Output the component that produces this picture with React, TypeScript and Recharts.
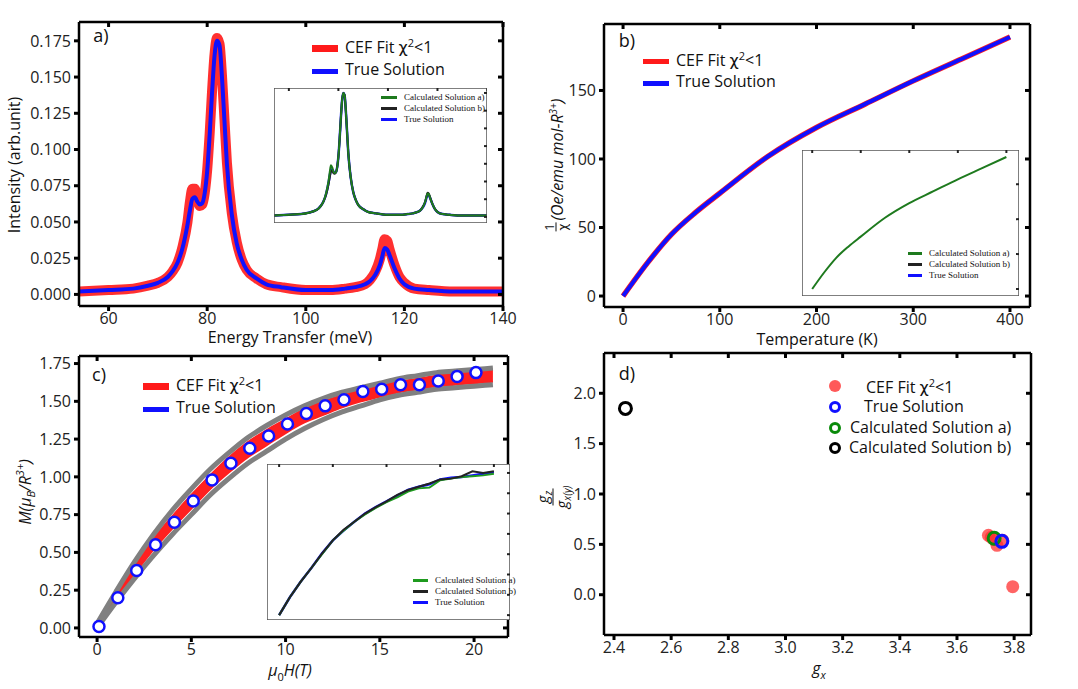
import React from "react";
import { LineChart, Line, XAxis, YAxis, ComposedChart, Area, Scatter, ScatterChart } from "recharts";

// ---- panel a data ----
const aEnergy = [54,60,65,68,70,72,73,74,75,76,76.5,77,77.5,78,78.5,79,79.5,80,80.5,81,81.5,82,82.5,83,83.5,84,85,86,87,88,90,92,95,100,105,108,110,112,113,114,115,115.5,116,116.5,117,118,119,120,122,125,130,135,140];
const aTrue = [0.002,0.003,0.004,0.006,0.008,0.012,0.016,0.022,0.032,0.048,0.058,0.066,0.067,0.064,0.062,0.063,0.07,0.085,0.11,0.14,0.165,0.175,0.172,0.15,0.12,0.09,0.055,0.035,0.024,0.017,0.011,0.007,0.005,0.003,0.003,0.004,0.005,0.007,0.009,0.013,0.02,0.026,0.032,0.031,0.027,0.018,0.011,0.007,0.004,0.003,0.002,0.002,0.002];
const aFit = [0.002,0.003,0.004,0.006,0.008,0.012,0.016,0.022,0.033,0.05,0.064,0.073,0.073,0.066,0.061,0.062,0.07,0.086,0.111,0.141,0.166,0.177,0.173,0.151,0.121,0.091,0.056,0.036,0.024,0.017,0.011,0.007,0.005,0.003,0.003,0.004,0.005,0.007,0.01,0.015,0.024,0.031,0.038,0.037,0.031,0.02,0.012,0.008,0.004,0.003,0.002,0.002,0.002];
const aCalcA = [0.002,0.003,0.004,0.006,0.008,0.012,0.016,0.022,0.033,0.05,0.063,0.073,0.07,0.064,0.062,0.063,0.07,0.085,0.11,0.14,0.165,0.175,0.172,0.15,0.12,0.09,0.055,0.035,0.024,0.017,0.011,0.007,0.005,0.003,0.003,0.004,0.005,0.007,0.009,0.013,0.021,0.027,0.033,0.032,0.027,0.018,0.011,0.007,0.004,0.003,0.002,0.002,0.002];
const aCalcB = [0.002,0.003,0.004,0.006,0.008,0.012,0.016,0.022,0.031,0.046,0.056,0.064,0.065,0.062,0.061,0.063,0.07,0.085,0.11,0.14,0.165,0.175,0.172,0.15,0.12,0.09,0.055,0.035,0.024,0.017,0.011,0.007,0.005,0.003,0.003,0.004,0.005,0.007,0.009,0.014,0.021,0.028,0.034,0.033,0.028,0.018,0.011,0.007,0.004,0.003,0.002,0.002,0.002];
const aXTicks = [60,80,100,120,140];
const aYTicks = [0,0.025,0.05,0.075,0.1,0.125,0.15,0.175];

// ---- panel b data ----
const bTemp = [0,25,50,75,100,150,200,250,300,350,400];
const bInvChi = [0,24,45,61,75,102,123,140,157,173,189];
const bXTicks = [0,100,200,300,400];
const bYTicks = [0,50,100,150];

// ---- panel c data ----
const cField = [0.1,1.1,2.1,3.1,4.1,5.1,6.1,7.1,8.1,9.1,10.1,11.1,12.1,13.1,14.1,15.1,16.1,17.1,18.1,19.1,20.1];
const cTrue = [0.01,0.2,0.38,0.55,0.7,0.84,0.98,1.09,1.19,1.27,1.35,1.42,1.47,1.51,1.565,1.58,1.61,1.61,1.635,1.665,1.69];
const cBandField = [0,1,2,3,4,5,6,7,8,9,10,11,12,13,14,15,16,17,18,19,20,21];
const cGrayHigh = [0.03,0.24,0.44,0.62,0.78,0.92,1.05,1.16,1.26,1.34,1.41,1.47,1.52,1.56,1.59,1.62,1.65,1.67,1.69,1.7,1.71,1.72];
const cGrayLow = [0,0.17,0.33,0.48,0.62,0.75,0.88,0.99,1.09,1.17,1.25,1.32,1.38,1.43,1.47,1.51,1.54,1.56,1.58,1.59,1.6,1.61];
const cRedLow = [0.01,0.19,0.36,0.52,0.66,0.79,0.92,1.03,1.13,1.21,1.29,1.36,1.41,1.46,1.5,1.53,1.56,1.58,1.6,1.61,1.62,1.63];
const cRedHigh = [0.02,0.22,0.41,0.59,0.74,0.88,1.01,1.13,1.23,1.31,1.38,1.45,1.5,1.54,1.58,1.61,1.63,1.65,1.67,1.69,1.7,1.71];
const cInsetField = [0,1,2,3,4,5,6,7,8,9,10,11,12,13,14,15,16,17,18,19,20];
const cInsetTrue = [0,0.22,0.41,0.58,0.76,0.92,1.04,1.15,1.25,1.33,1.4,1.47,1.54,1.58,1.61,1.67,1.69,1.7,1.72,1.74,1.76];
const cInsetA = [0,0.22,0.41,0.58,0.75,0.92,1.04,1.15,1.24,1.32,1.39,1.45,1.52,1.56,1.57,1.66,1.68,1.7,1.71,1.72,1.74];
const cInsetB = [0,0.22,0.41,0.58,0.76,0.92,1.05,1.15,1.25,1.33,1.4,1.48,1.54,1.58,1.62,1.67,1.68,1.71,1.77,1.75,1.77];
const cXTicks = [0,5,10,15,20];
const cYTicks = [0,0.25,0.5,0.75,1,1.25,1.5,1.75];

// ---- panel d data ----
const dFitGx = [3.71,3.72,3.73,3.74,3.76,3.795];
const dFitRatio = [0.59,0.57,0.55,0.49,0.54,0.08];
const dTrue = [{ gx: 3.757, r: 0.53 }];
const dCalcA = [{ gx: 3.73, r: 0.56 }];
const dCalcB = [{ gx: 2.44, r: 1.85 }];
const dXTicks = [2.4,2.6,2.8,3.0,3.2,3.4,3.6,3.8];
const dYTicks = [0,0.5,1,1.5,2];

const aRows = aEnergy.map((e, i) => ({ e, t: aTrue[i], f: aFit[i], ca: aCalcA[i], cb: aCalcB[i] }));
const bRows = bTemp.map((t, i) => ({ t, v: bInvChi[i] }));
const cBandRows = cBandField.map((h, i) => ({ h, gh: cGrayHigh[i], gl: cGrayLow[i], red: [cRedLow[i], cRedHigh[i]] }));
const cPts = cField.map((h, i) => ({ h, m: cTrue[i] }));
const cInsetRows = cInsetField.map((h, i) => ({ h, t: cInsetTrue[i], a: cInsetA[i], b: cInsetB[i] }));
const dFit = dFitGx.map((gx, i) => ({ gx, r: dFitRatio[i] }));

const FONT = "'Open Sans', 'DejaVu Sans', sans-serif";
const SERIF = "'Liberation Serif', 'DejaVu Serif', serif";
const tickStyle = { fontSize: 16, fill: "#222", fontFamily: FONT };

type Box = { l: number; t: number; w: number; h: number };
type Plot = { x1: number; x2: number; y1: number; y2: number };

function layout(box: Box, p: Plot) {
  return {
    width: box.w,
    height: box.h,
    margin: { left: 0, bottom: 0, top: p.y1 - box.t - 1, right: box.l + box.w - p.x2 - 1 },
    yW: p.x1 - box.l,
    xH: box.t + box.h - p.y2,
  };
}

function axes(L: any, xKey: string, xd: number[], yd: number[], xt: number[], yt: number[], fx: (v: number) => string, fy: (v: number) => string, inset = false) {
  const line = { stroke: inset ? "#555" : "#000", strokeWidth: inset ? 1.5 : 2.5 };
  const tl = { stroke: inset ? "#222" : "#000", strokeWidth: inset ? 2 : 3 };
  const ts = inset ? 3 : 5;
  const blank = () => "";
  return [
    <XAxis key="xb" xAxisId={0} type="number" dataKey={xKey} domain={xd} ticks={xt} allowDataOverflow height={L.xH} axisLine={line} tickLine={tl} tickSize={ts} tickMargin={2} mirror={inset} tick={inset ? false : tickStyle} tickFormatter={inset ? blank : fx} interval={0} />,
    <YAxis key="yl" yAxisId={0} type="number" domain={yd} ticks={yt} allowDataOverflow width={L.yW} axisLine={line} tickLine={tl} tickSize={ts} tickMargin={3} mirror={inset} tick={inset ? false : tickStyle} tickFormatter={inset ? blank : fy} interval={0} />,
    <XAxis key="xt" xAxisId="t" orientation="top" type="number" dataKey={xKey} domain={xd} ticks={xt} allowDataOverflow height={1} axisLine={line} tickLine={tl} tickSize={ts} mirror tickFormatter={blank} interval={0} />,
    <YAxis key="yr" yAxisId="r" orientation="right" type="number" domain={yd} ticks={yt} allowDataOverflow width={1} axisLine={line} tickLine={tl} tickSize={ts} mirror tickFormatter={blank} interval={0} />,
  ];
}

const abs = (l: number, t: number, extra: any = {}) => ({ position: "absolute" as const, left: l, top: t, ...extra });

function Swatch({ color, w = 26, h = 5 }: { color: string; w?: number; h?: number }) {
  return <span style={{ display: "inline-block", width: w, height: h, background: color, verticalAlign: "middle", marginRight: 7 }} />;
}

function Text({ l, t, children, size = 16, rot = false, family = FONT, extra = {} }: any) {
  return (
    <div style={abs(l, t, { fontFamily: family, fontSize: size, color: "#111", whiteSpace: "nowrap", lineHeight: 1, transform: rot ? "translate(-50%,-50%) rotate(-90deg)" : "translate(-50%,-50%)", ...extra })}>
      {children}
    </div>
  );
}

function LegendRow({ l, t, color, label, sw = 26, sh = 5, size = 16, family = FONT }: any) {
  return (
    <div style={abs(l, t - size * 0.6, { fontFamily: family, fontSize: size, color: "#111", whiteSpace: "nowrap", lineHeight: 1.2 + "" })}>
      <Swatch color={color} w={sw} h={sh} />
      {label}
    </div>
  );
}

const chiFit = <span>CEF Fit <span style={{ fontFamily: "'DejaVu Sans'" }}>χ</span><sup style={{ fontSize: 11 }}>2</sup>&lt;1</span>;

function Circle(props: any) {
  const { cx, cy, fill, stroke, filled } = props;
  return filled ? <circle cx={cx} cy={cy} r={6.5} fill={fill} fillOpacity={0.75} /> : <circle cx={cx} cy={cy} r={6} fill="#fff" fillOpacity={0} stroke={stroke} strokeWidth={3} />;
}

export default function App() {
  const La = layout({ l: 0, t: 0, w: 540, h: 345 }, { x1: 79, x2: 502, y1: 23, y2: 306 });
  const LaI = layout({ l: 274, t: 88, w: 213, h: 135 }, { x1: 275, x2: 486, y1: 89, y2: 222 });
  const Lb = layout({ l: 540, t: 0, w: 538, h: 340 }, { x1: 604, x2: 1029, y1: 25, y2: 307 });
  const LbI = layout({ l: 802, t: 150, w: 217, h: 146 }, { x1: 803, x2: 1018, y1: 151, y2: 295 });
  const Lc = layout({ l: 0, t: 335, w: 540, h: 354 }, { x1: 79, x2: 507, y1: 357, y2: 637 });
  const LcI = layout({ l: 267, t: 464, w: 243, h: 156 }, { x1: 268, x2: 509, y1: 465, y2: 619 });
  const Ld = layout({ l: 540, t: 340, w: 538, h: 349 }, { x1: 604, x2: 1030, y1: 354, y2: 635 });
  const f3 = (v: number) => v.toFixed(3);
  const f2 = (v: number) => v.toFixed(2);
  const f1 = (v: number) => v.toFixed(1);
  const f0 = (v: number) => String(v);

  return (
    <div style={{ position: "absolute", left: 0, top: 0, width: 1078, height: 689, background: "#fff", overflow: "hidden" }}>
      {/* Panel a */}
      <div style={abs(0, 0)}>
        <LineChart width={La.width} height={La.height} margin={La.margin} data={aRows}>
          {axes(La, "e", [54, 140], [-0.008, 0.188], aXTicks, aYTicks, f0, f3)}
          <Line dataKey="f" type="monotone" dot={false} stroke="#ff1a1a" strokeWidth={10} strokeOpacity={0.9} isAnimationActive={false} />
          <Line dataKey="t" type="monotone" dot={false} stroke="#1010ff" strokeWidth={4} isAnimationActive={false} />
        </LineChart>
      </div>
      <div style={abs(274, 88, { background: "#fff" })}>
        <LineChart width={LaI.width} height={LaI.height} margin={LaI.margin} data={aRows}>
          {axes(LaI, "e", [54, 140], [-0.0086, 0.182], [60, 80, 100, 120, 140], [0, 0.025, 0.05, 0.075, 0.1, 0.125, 0.15, 0.175], f0, f3, true)}
          <Line dataKey="t" type="monotone" dot={false} stroke="#1010ff" strokeWidth={2.5} isAnimationActive={false} />
          <Line dataKey="cb" type="monotone" dot={false} stroke="#222" strokeWidth={2} isAnimationActive={false} />
          <Line dataKey="ca" type="monotone" dot={false} stroke="#1e7a1e" strokeWidth={2} isAnimationActive={false} />
        </LineChart>
      </div>

      {/* Panel b */}
      <div style={abs(540, 0)}>
        <LineChart width={Lb.width} height={Lb.height} margin={Lb.margin} data={bRows}>
          {axes(Lb, "t", [-19.7, 420.7], [-8, 198.5], bXTicks, bYTicks, f0, f0)}
          <Line dataKey="v" type="monotone" dot={false} stroke="#ff2020" strokeWidth={5.5} isAnimationActive={false} />
          <Line dataKey="v" type="monotone" dot={false} stroke="#1010ff" strokeWidth={4} isAnimationActive={false} />
        </LineChart>
      </div>
      <div style={abs(802, 150, { background: "#fff" })}>
        <LineChart width={LbI.width} height={LbI.height} margin={LbI.margin} data={bRows}>
          {axes(LbI, "t", [-21, 426], [-10, 199], bXTicks, [0, 50, 100, 150], f0, f0, true)}
          <Line dataKey="v" type="monotone" dot={false} stroke="#1e7a1e" strokeWidth={2} isAnimationActive={false} />
        </LineChart>
      </div>

      {/* Panel c */}
      <div style={abs(0, 335)}>
        <ComposedChart width={Lc.width} height={Lc.height} margin={Lc.margin} data={cBandRows}>
          {axes(Lc, "h", [-0.96, 21.8], [-0.06, 1.8], cXTicks, cYTicks, f0, f2)}
          <Line dataKey="gh" type="monotone" dot={false} stroke="#808080" strokeWidth={5} isAnimationActive={false} />
          <Line dataKey="gl" type="monotone" dot={false} stroke="#808080" strokeWidth={5} isAnimationActive={false} />
          <Area dataKey="red" type="monotone" stroke="#ff2020" strokeWidth={2} fill="#ff2020" fillOpacity={1} isAnimationActive={false} />
          <Scatter data={cPts} dataKey="m" isAnimationActive={false} shape={(p: any) => <circle cx={p.cx} cy={p.cy} r={5.5} fill="#fff" stroke="#1010ff" strokeWidth={2.5} />} />
        </ComposedChart>
      </div>
      <div style={abs(267, 464, { background: "#fff" })}>
        <LineChart width={LcI.width} height={LcI.height} margin={LcI.margin} data={cInsetRows}>
          {axes(LcI, "h", [-1.13, 21.5], [-0.06, 1.86], [0, 5, 10, 15, 20], [0, 0.25, 0.5, 0.75, 1, 1.25, 1.5, 1.75], f0, f2, true)}
          <Line dataKey="t" dot={false} stroke="#1010ff" strokeWidth={2.5} isAnimationActive={false} />
          <Line dataKey="a" dot={false} stroke="#1e9a1e" strokeWidth={2} isAnimationActive={false} />
          <Line dataKey="b" dot={false} stroke="#222" strokeWidth={2} isAnimationActive={false} />
        </LineChart>
      </div>

      {/* Panel d */}
      <div style={abs(540, 340)}>
        <ScatterChart width={Ld.width} height={Ld.height} margin={Ld.margin}>
          {axes(Ld, "gx", [2.365, 3.859], [-0.4, 2.4], dXTicks, dYTicks, f1, f1)}
          <Scatter data={dFit} dataKey="r" isAnimationActive={false} shape={(p: any) => <Circle {...p} filled fill="#ff3030" />} />
          <Scatter data={dCalcA} dataKey="r" isAnimationActive={false} shape={(p: any) => <Circle {...p} stroke="#0a8a0a" />} />
          <Scatter data={dTrue} dataKey="r" isAnimationActive={false} shape={(p: any) => <Circle {...p} stroke="#1010ff" />} />
          <Scatter data={dCalcB} dataKey="r" isAnimationActive={false} shape={(p: any) => <Circle {...p} stroke="#000" />} />
        </ScatterChart>
      </div>

      {/* Panel letters */}
      <Text l={101} t={35} size={18}>a)</Text>
      <Text l={627} t={40} size={18}>b)</Text>
      <Text l={99} t={374} size={18}>c)</Text>
      <Text l={627} t={373} size={18}>d)</Text>

      {/* Axis labels */}
      <Text l={290} t={337} size={16}>Energy Transfer (meV)</Text>
      <Text l={14} t={165} size={16} rot>Intensity (arb.unit)</Text>
      <Text l={817} t={339} size={16}>Temperature (K)</Text>
      <Text l={556} t={165} size={16} rot extra={{ display: "flex", alignItems: "center" }}>
        <span style={{ display: "inline-flex", flexDirection: "column", alignItems: "center", fontSize: 12, marginRight: 2 }}>
          <span style={{ borderBottom: "1px solid #111", padding: "0 1px" }}>1</span>
          <span style={{ fontFamily: "'DejaVu Sans'" }}>χ</span>
        </span>
        <span style={{ fontStyle: "italic" }}>(Oe/emu mol-R<sup style={{ fontSize: 10 }}>3+</sup>)</span>
      </Text>
      <Text l={290} t={672} size={16} extra={{ fontStyle: "italic" }}>μ<sub style={{ fontSize: 11, fontStyle: "normal" }}>0</sub>H(T)</Text>
      <Text l={25} t={492} size={16} rot extra={{ fontStyle: "italic" }}>M(μ<sub style={{ fontSize: 11 }}>B</sub>/R<sup style={{ fontSize: 11 }}>3+</sup>)</Text>
      <Text l={819} t={670} size={16} extra={{ fontStyle: "italic" }}>g<sub style={{ fontSize: 11 }}>x</sub></Text>
      <Text l={553} t={497} size={15} rot extra={{ fontStyle: "italic" }}>
        <span style={{ display: "inline-flex", flexDirection: "column", alignItems: "center" }}>
          <span style={{ borderBottom: "1px solid #111", padding: "0 2px" }}>g<sub style={{ fontSize: 10 }}>z</sub></span>
          <span>g<sub style={{ fontSize: 10 }}>x(y)</sub></span>
        </span>
      </Text>

      {/* Legends */}
      <LegendRow l={312} t={45} color="#ff1a1a" label={chiFit} sh={7} />
      <LegendRow l={312} t={70} color="#1010ff" label="True Solution" />
      <LegendRow l={643} t={58} color="#ff1a1a" label={chiFit} />
      <LegendRow l={643} t={82} color="#1010ff" label="True Solution" />
      <LegendRow l={143} t={383} color="#ff1a1a" label={chiFit} sh={7} />
      <LegendRow l={143} t={408} color="#1010ff" label="True Solution" />

      <LegendRow l={381} t={97} color="#1e7a1e" label="Calculated Solution a)" sw={16} sh={3} size={9} family={SERIF} />
      <LegendRow l={381} t={108} color="#222" label="Calculated Solution b)" sw={16} sh={3} size={9} family={SERIF} />
      <LegendRow l={381} t={119} color="#1010ff" label="True Solution" sw={16} sh={3} size={9} family={SERIF} />
      <LegendRow l={908} t={253} color="#1e7a1e" label="Calculated Solution a)" sw={14} sh={3} size={9} family={SERIF} />
      <LegendRow l={908} t={264} color="#222" label="Calculated Solution b)" sw={14} sh={3} size={9} family={SERIF} />
      <LegendRow l={908} t={275} color="#1010ff" label="True Solution" sw={14} sh={3} size={9} family={SERIF} />
      <LegendRow l={413} t={580} color="#1e9a1e" label="Calculated Solution a)" sw={15} sh={3} size={9} family={SERIF} />
      <LegendRow l={413} t={591} color="#222" label="Calculated Solution b)" sw={15} sh={3} size={9} family={SERIF} />
      <LegendRow l={413} t={602} color="#1010ff" label="True Solution" sw={15} sh={3} size={9} family={SERIF} />

      {[
        { y: 386, label: chiFit, x: 866, filled: true, c: "#ff3030" },
        { y: 407, label: "True Solution", x: 864, c: "#1010ff" },
        { y: 428, label: "Calculated Solution a)", x: 850, c: "#0a8a0a" },
        { y: 448, label: "Calculated Solution b)", x: 849, c: "#000" },
      ].map((r, i) => (
        <React.Fragment key={i}>
          <div style={abs(829, r.y - 6, { width: 12, height: 12, borderRadius: 8, boxSizing: "border-box", background: r.filled ? "rgba(255,48,48,0.8)" : "transparent", border: r.filled ? "none" : `3px solid ${r.c}` })} />
          <div style={abs(r.x, r.y - 9, { fontFamily: FONT, fontSize: 16, lineHeight: 1, whiteSpace: "nowrap", color: "#111" })}>{r.label}</div>
        </React.Fragment>
      ))}
    </div>
  );
}
